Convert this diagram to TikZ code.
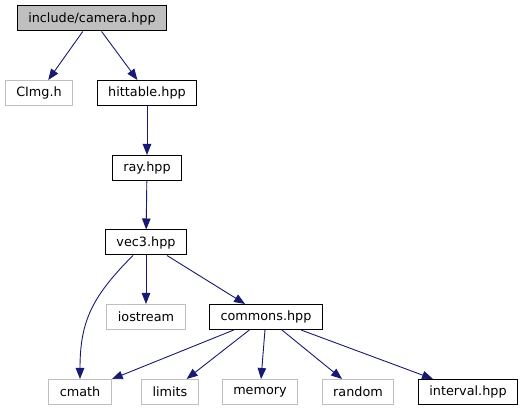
\documentclass[tikz,border=0pt]{standalone}
\usepackage{fontspec}
\setmainfont{DejaVu Sans}
\usetikzlibrary{arrows.meta}
\definecolor{edgeblue}{HTML}{191970}
\definecolor{lightgrey}{HTML}{BFBFBF}
\begin{document}
\begin{tikzpicture}[x=1pt, y=-1pt,
    file/.style={draw=black, line width=1pt, inner xsep=11pt, inner ysep=0pt,
      minimum height=25pt, font=\fontsize{12.8}{15}\selectfont},
    sysfile/.style={file, draw=lightgrey},
    dep/.style={edgeblue, line width=0.9pt, -{Triangle[length=11pt,width=8.5pt]}}]
  \useasboundingbox (0,0) rectangle (528,411);

  \node[file, fill=lightgrey] (camera) at (92, 18.5) {include/camera.hpp};
  \node[sysfile] (cimg) at (39, 93) {CImg.h};
  \node[file] (hittable) at (147, 93) {hittable.hpp};
  \node[file] (ray) at (147, 168) {ray.hpp};
  \node[file] (vec3) at (146, 242.5) {vec3.hpp};
  \node[sysfile] (iostream) at (146, 317) {iostream};
  \node[file] (commons) at (266, 317) {commons.hpp};
  \node[sysfile] (cmath) at (80, 392) {cmath};
  \node[sysfile] (limits) at (170, 392) {limits};
  \node[sysfile] (memory) at (260, 392) {memory};
  \node[sysfile] (random) at (358, 392) {random};
  \node[file] (interval) at (468, 392) {interval.hpp};

  \draw[dep] (camera) -- (cimg);
  \draw[dep] (camera) -- (hittable);
  \draw[dep] (hittable) -- (ray);
  \draw[dep] (ray) -- (vec3);
  \draw[dep] (vec3) to[out=-135, in=90, looseness=1.1] (cmath);
  \draw[dep] (vec3) -- (iostream);
  \draw[dep] (vec3) -- (commons);
  \foreach \dst in {cmath, limits, memory, random, interval}
    \draw[dep] (commons) -- (\dst);
\end{tikzpicture}
\end{document}
